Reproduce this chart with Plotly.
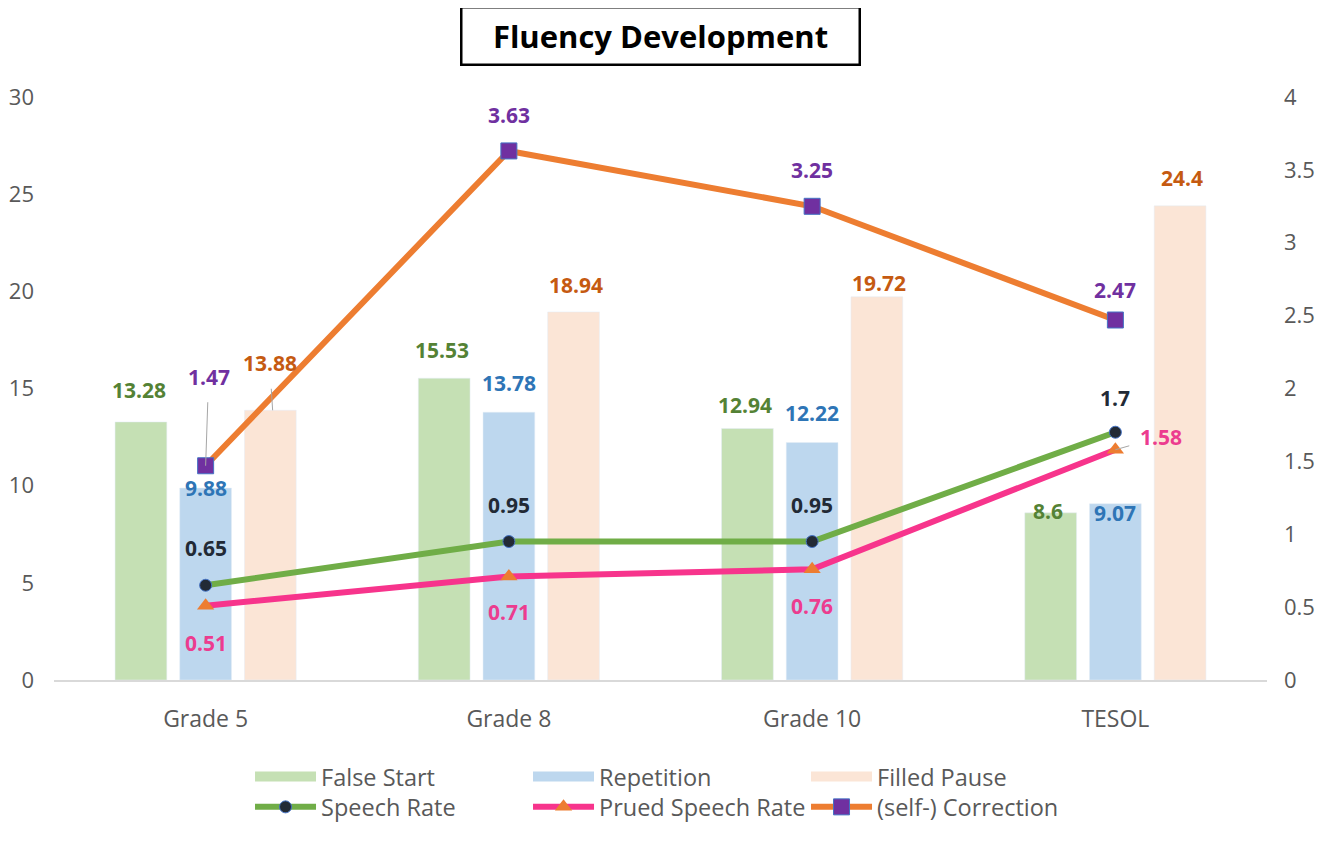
import plotly.graph_objects as go

categories = ["Grade 5", "Grade 8", "Grade 10", "TESOL"]

false_start = [13.28, 15.53, 12.94, 8.6]
repetition = [9.88, 13.78, 12.22, 9.07]
filled_pause = [13.88, 18.94, 19.72, 24.4]

speech_rate = [0.65, 0.95, 0.95, 1.7]
prued_speech_rate = [0.51, 0.71, 0.76, 1.58]
self_correction = [1.47, 3.63, 3.25, 2.47]

left_ticks = [0, 5, 10, 15, 20, 25, 30]
right_ticks = [0, 0.5, 1, 1.5, 2, 2.5, 3, 3.5, 4]

FONT = "Open Sans, Lato, sans-serif"
GREY = "#595959"
bar_colors = {"False Start": "#C5E0B4", "Repetition": "#BDD7EE", "Filled Pause": "#FBE5D6"}

fig = go.Figure()

# bars on the left axis
for name, vals in [("False Start", false_start), ("Repetition", repetition),
                   ("Filled Pause", filled_pause)]:
    fig.add_trace(go.Bar(x=categories, y=vals, name=name,
                         marker_color=bar_colors[name], showlegend=False))

# legend swatches for the bars (Excel style wide rectangles)
for name, col in bar_colors.items():
    fig.add_trace(go.Scatter(x=[None], y=[None], name=name, mode="lines",
                             line=dict(color=col, width=15), legend="legend"))

# lines on the right axis
fig.add_trace(go.Scatter(x=categories, y=speech_rate, name="Speech Rate", yaxis="y2",
                         mode="lines+markers", legend="legend2",
                         line=dict(color="#70AD47", width=6),
                         marker=dict(symbol="circle", size=12, color="#222A35",
                                     line=dict(color="#4472C4", width=1))))
fig.add_trace(go.Scatter(x=categories, y=prued_speech_rate, name="Prued Speech Rate", yaxis="y2",
                         mode="lines+markers", legend="legend2",
                         line=dict(color="#F7348C", width=6),
                         marker=dict(symbol="triangle-up", size=15, color="#ED7D31")))
fig.add_trace(go.Scatter(x=categories, y=self_correction, name="(self-) Correction", yaxis="y2",
                         mode="lines+markers", legend="legend2",
                         line=dict(color="#ED7D31", width=6),
                         marker=dict(symbol="square", size=16, color="#7030A0",
                                     line=dict(color="#4472C4", width=1))))

# data labels: (values, axis, colour, x shift, y shifts, leader-line index -> (ax, ay))
label_sets = [
    (false_start, "y", "#548235", -67, [32, 28, 24, 2], {}),
    (repetition, "y", "#2E75B6", 0, [0, 29, 30, -9], {}),
    (filled_pause, "y", "#C55A11", 67, [47, 27, 14, 28], {0: (-3, -47)}),
    (speech_rate, "y2", "#222A35", 0, [37, 37, 37, 34], {}),
    (prued_speech_rate, "y2", "#EC3C8F", 0, [-37, -35, -37, 13], {3: (46, -13)}),
    (self_correction, "y2", "#7030A0", 0, [89, 36, 36, 30], {0: (3, -89)}),
]

for values, yref, color, xs, ys, leaders in label_sets:
    for i, (cat, v) in enumerate(zip(categories, values)):
        ann = dict(x=cat, y=v, xref="x", yref=yref, text=str(v),
                   font=dict(family=FONT, size=21, color=color, weight="bold"))
        if i in leaders:
            ax, ay = leaders[i]
            ann.update(showarrow=True, ax=ax, ay=ay, arrowhead=0, arrowwidth=1,
                       arrowcolor="#A6A6A6", xshift=xs, standoff=0, startstandoff=10)
        else:
            ann.update(showarrow=False, xshift=xs, yshift=ys[i])
        fig.add_annotation(**ann)

# boxed title
fig.add_annotation(x=0.5, y=1.1046, xref="paper", yref="paper", showarrow=False,
                   xanchor="center", yanchor="middle",
                   text="<b>Fluency Development</b>", width=384, height=43,
                   font=dict(family=FONT, size=31, color="black"),
                   bordercolor="black", borderwidth=2.5, borderpad=6, bgcolor="white")

legend_common = dict(orientation="h", xanchor="left", yanchor="middle",
                     font=dict(family=FONT, size=23.5, color=GREY),
                     entrywidth=202, entrywidthmode="pixels", itemwidth=61,
                     bgcolor="rgba(0,0,0,0)", traceorder="normal")

fig.update_layout(
    width=1320, height=834,
    margin=dict(l=46, r=61, t=89, b=162),
    plot_bgcolor="white", paper_bgcolor="white",
    font=dict(family=FONT, size=22, color=GREY),
    barmode="group", bargap=0.36, bargroupgap=0.2,
    showlegend=True,
    legend=dict(x=0.1616, y=-0.166, **legend_common),
    legend2=dict(x=0.1616, y=-0.218, **legend_common),
    xaxis=dict(showgrid=False, showline=True, linecolor="#D9D9D9", linewidth=1.5,
               ticks="", ticklabelstandoff=18, automargin=False,
               tickfont=dict(family=FONT, size=23, color=GREY)),
    yaxis=dict(range=[0, 30], tickvals=left_ticks, showgrid=False, zeroline=False,
               showline=False, ticks="", ticklabelstandoff=19, automargin=False,
               tickfont=dict(family=FONT, size=22, color=GREY)),
    yaxis2=dict(range=[0, 4], tickvals=right_ticks, overlaying="y", side="right",
                showgrid=False, zeroline=False, showline=False, ticks="",
                ticklabelstandoff=16, automargin=False,
                tickfont=dict(family=FONT, size=22, color=GREY)),
)

fig.write_html("out.html")
